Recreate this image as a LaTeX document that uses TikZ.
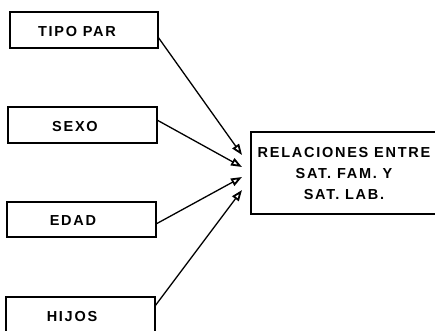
\documentclass[tikz,border=0pt]{standalone}
\usepackage{fontspec}
\setmainfont{Liberation Sans}[LetterSpace=12]
\usetikzlibrary{arrows.meta}
\tikzset{
  box/.style={draw, line width=1.5pt, inner sep=0pt},
  lbl/.style={font=\bfseries\fontsize{14.5}{21}\selectfont, align=center},
  arr/.style={line width=1.3pt, -{Triangle[open, length=11pt, width=8pt, line width=1.8pt]}}
}
\begin{document}
\begin{tikzpicture}[x=1pt,y=-1pt]
\useasboundingbox (0,0) rectangle (435,330);
\clip (0,0) rectangle (435,330);
% boxes
\draw[box] (10,12) rectangle (158,48);
\draw[box] (8,107) rectangle (157,143);
\draw[box] (7,202) rectangle (156,237);
\draw[box] (6,297) rectangle (155,345);
\draw[box] (251,132) rectangle (450,214);
\node[lbl] (tipo) at (77,32) {TIPO PAR};
\node[lbl] (sexo) at (75,127) {SEXO};
\node[lbl] (edad) at (73,221) {EDAD};
\node[lbl] (hijos) at (72,316) {HIJOS};
\node[lbl] (rel) at (344,174) {RELACIONES ENTRE\\SAT. FAM. Y\\SAT. LAB.};
% anchors
\coordinate (a1) at (158,37);
\coordinate (a2) at (157,120);
\coordinate (a3) at (156,224);
\coordinate (a4) at (155,306);
\coordinate (t1) at (242,155);
\coordinate (t2) at (242,167);
\coordinate (t3) at (242,177);
\coordinate (t4) at (242,190);
\draw[arr] (a1) -- (t1);
\draw[arr] (a2) -- (t2);
\draw[arr] (a3) -- (t3);
\draw[arr] (a4) -- (t4);
\end{tikzpicture}
\end{document}
